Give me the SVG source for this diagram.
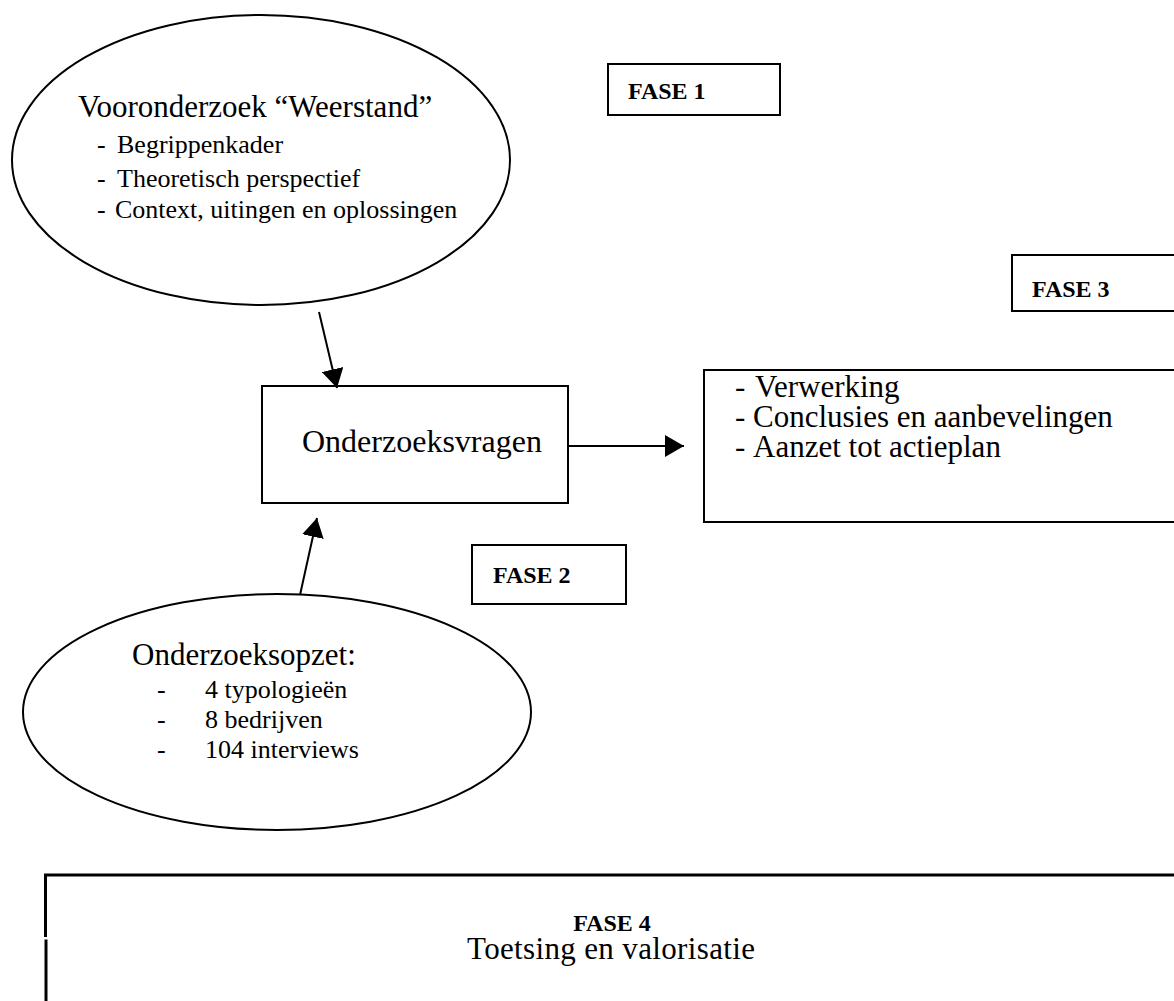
<svg xmlns="http://www.w3.org/2000/svg" width="1174" height="1001" viewBox="0 0 1174 1001">
<style>
.sh{fill:#fff;stroke:#000;stroke-width:2}
.t{font-family:"Liberation Serif","Times New Roman",serif;fill:#000}
.big{font-size:31px}
.mid{font-size:26px}
.lbl{font-size:24px;font-weight:bold}
.con{stroke:#000;stroke-width:2;fill:none}
.edge{stroke:#000;stroke-width:3;fill:none}
</style>
<defs>
<marker id="ah" markerUnits="userSpaceOnUse" markerWidth="20" markerHeight="22" refX="19" refY="11" orient="auto">
<path d="M0,0 L19,11 L0,22 z" fill="#000"/>
</marker>
</defs>
<rect width="1174" height="1001" fill="#fff"/>

<g id="vooronderzoek">
<ellipse class="sh" cx="261" cy="160" rx="249" ry="145"/>
<text class="t big" x="78" y="117">Vooronderzoek “Weerstand”</text>
<text class="t mid" y="153"><tspan x="97">-</tspan><tspan x="117">Begrippenkader</tspan></text>
<text class="t mid" y="187"><tspan x="97">-</tspan><tspan x="117">Theoretisch perspectief</tspan></text>
<text class="t mid" y="218"><tspan x="97">-</tspan><tspan x="115">Context, uitingen en oplossingen</tspan></text>
</g>

<g id="fase1">
<rect class="sh" x="608" y="64" width="172" height="51"/>
<text class="t lbl" x="628" y="99">FASE 1</text>
</g>

<g id="fase3">
<rect class="sh" x="1012" y="255" width="180" height="56"/>
<text class="t lbl" x="1032" y="297">FASE 3</text>
</g>

<g id="onderzoeksvragen">
<rect class="sh" x="262" y="386" width="306" height="117"/>
<text class="t" x="302" y="452" font-size="32">Onderzoeksvragen</text>
</g>

<g id="verwerking">
<rect class="sh" x="704" y="370" width="490" height="152"/>
<text class="t big" y="397"><tspan x="735">-</tspan><tspan x="755">Verwerking</tspan></text>
<text class="t big" y="427"><tspan x="735">-</tspan><tspan x="753">Conclusies en aanbevelingen</tspan></text>
<text class="t big" y="457"><tspan x="735">-</tspan><tspan x="753">Aanzet tot actieplan</tspan></text>
</g>

<g id="fase2">
<rect class="sh" x="472" y="545" width="154" height="59"/>
<text class="t lbl" x="493" y="583">FASE 2</text>
</g>

<g id="onderzoeksopzet">
<ellipse class="sh" cx="277" cy="712" rx="254" ry="118"/>
<text class="t big" x="132" y="665">Onderzoeksopzet:</text>
<text class="t mid" y="698"><tspan x="157">-</tspan><tspan x="205">4 typologieën</tspan></text>
<text class="t mid" y="728"><tspan x="157">-</tspan><tspan x="205">8 bedrijven</tspan></text>
<text class="t mid" y="758"><tspan x="157">-</tspan><tspan x="205">104 interviews</tspan></text>
</g>

<g id="fase4">
<rect x="45.5" y="875" width="1200" height="200" fill="#fff" stroke="none"/>
<path class="edge" d="M1180,875 H45.5 V937"/>
<path class="edge" d="M46,939.5 V1005"/>
<text class="t lbl" x="612" y="931" text-anchor="middle">FASE 4</text>
<text class="t" x="467" y="959" font-size="31" textLength="288" lengthAdjust="spacing">Toetsing en valorisatie</text>
</g>

<g id="connectors">
<line class="con" x1="319" y1="312" x2="337" y2="388" marker-end="url(#ah)"/>
<line class="con" x1="568" y1="446" x2="684" y2="446" marker-end="url(#ah)"/>
<line class="con" x1="300" y1="595" x2="317" y2="518" marker-end="url(#ah)"/>
</g>
</svg>
